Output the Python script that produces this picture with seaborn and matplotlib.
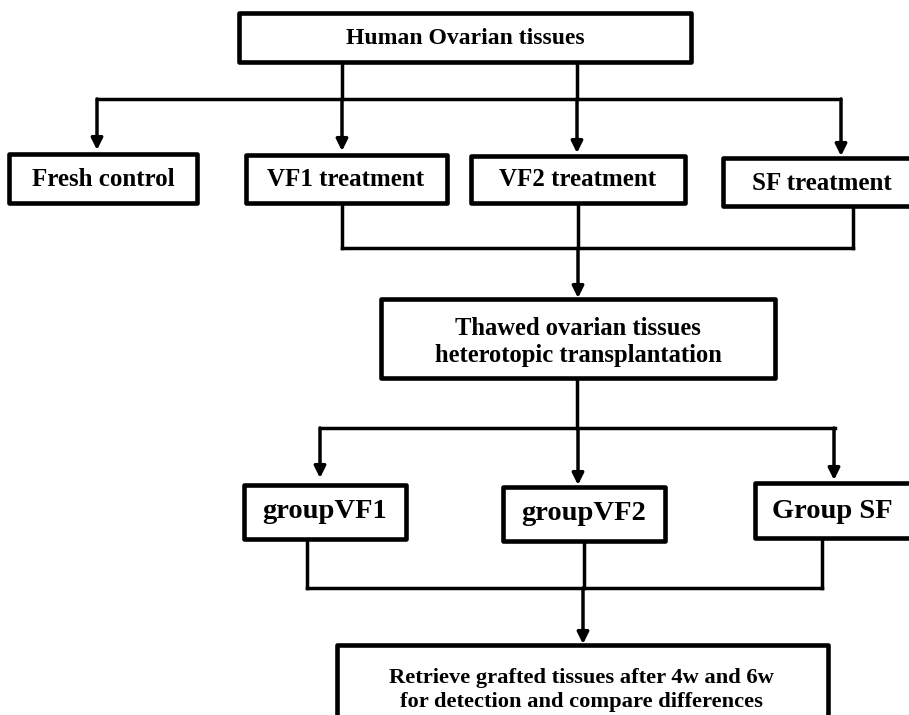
import matplotlib
matplotlib.use('Agg')
import matplotlib.pyplot as plt
from matplotlib.patches import Rectangle
import seaborn as sns

sns.set_theme(style="white")
plt.rcParams['font.family'] = ['Liberation Serif', 'DejaVu Serif']

# Kutu etiketleri
box_labels = [
    "Human Ovarian tissues",
    "Fresh control", "VF1 treatment", "VF2 treatment", "SF treatment",
    "Thawed ovarian tissues\nheterotopic transplantation",
    "groupVF1", "groupVF2", "Group SF",
    "Retrieve grafted tissues after 4w and 6w\nfor detection and compare differences",
]
label_sizes = [17, 18, 18, 18, 18, 17.7, 20.5, 20.5, 20.5, 16.2]

# kutu konumları (x0, y0, x1, y1) piksel cinsinden
box_geom = [
    (239, 13, 691, 62),
    (9, 154, 197, 203), (246, 155, 447, 203), (471, 156, 685, 203), (723, 158, 925, 206),
    (381, 299, 775, 378),
    (244, 485, 406, 539), (503, 487, 665, 541), (755, 483, 925, 538),
    (337, 645, 828, 740),
]
text_x = [465, 103, 346, 578, 822, 578, 325, 584, 832, 581]
text_y = [38, 179, 180, 180, 183, 342, 512, 514, 511, 690]

# çizgiler (x listesi, y listesi)
lines = [
    ([342, 342], [62, 99]), ([577, 577], [62, 99]),
    ([97, 840], [99, 99]),
    ([342, 342], [203, 248]), ([578, 578], [203, 248]), ([853, 853], [206, 248]),
    ([342, 853], [248, 248]),
    ([577, 577], [378, 428]),
    ([320, 835], [428, 428]),
    ([307, 307], [539, 588]), ([584, 584], [541, 588]), ([822, 822], [538, 588]),
    ([307, 822], [588, 588]),
]
# oklar (başlangıç -> uç)
arrows = [
    ((97, 99), (97, 150)), ((342, 99), (342, 151)), ((577, 99), (577, 153)), ((841, 99), (841, 156)),
    ((578, 248), (578, 298)),
    ((320, 428), (320, 478)), ((578, 428), (578, 485)), ((834, 428), (834, 480)),
    ((583, 588), (583, 644)),
]

fig = plt.figure(figsize=(9.09, 7.15), dpi=100)
ax = fig.add_axes([0, 0, 1, 1])
ax.set_xlim(0, 909)
ax.set_ylim(715, 0)
ax.axis('off')

for xs, ys in lines:
    ax.plot(xs, ys, color='black', lw=2.5, solid_capstyle='projecting')

for start, tip in arrows:
    ax.annotate('', xy=tip, xytext=start,
                arrowprops=dict(arrowstyle='-|>', lw=2.5, color='black',
                                shrinkA=0, shrinkB=0, mutation_scale=17))

for (x0, y0, x1, y1), label, size, tx, ty in zip(box_geom, box_labels, label_sizes, text_x, text_y):
    ax.add_patch(Rectangle((x0, y0), x1 - x0, y1 - y0, facecolor='white',
                           edgecolor='black', lw=3.3, joinstyle='round', zorder=3))
    ax.text(tx, ty, label, ha='center', va='center', fontsize=size,
            fontweight='bold', color='black', zorder=4, linespacing=1.2)

fig.savefig("out.png", dpi=100)
